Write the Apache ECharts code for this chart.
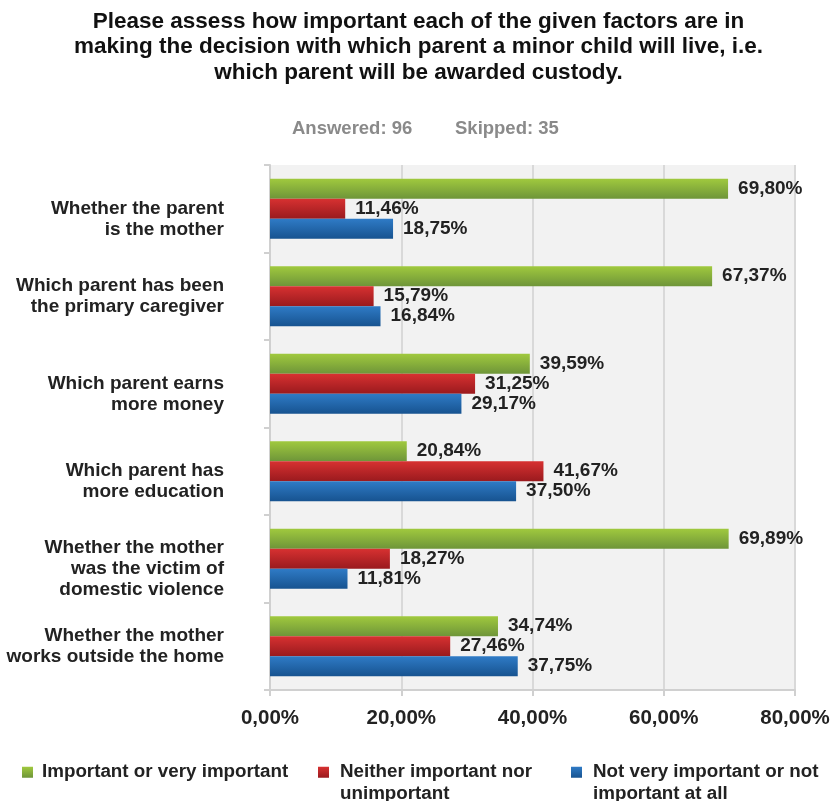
<!DOCTYPE html>
<html>
<head>
<meta charset="utf-8">
<script src="https://cdn.jsdelivr.net/npm/echarts@6/dist/echarts.min.js"></script>
<style>
html,body{margin:0;padding:0;background:#fff;}
#main{width:837px;height:801px;}
</style>
</head>
<body>
<div id="main"></div>
<script>
const categories = [
  "\nWhether the parent\nis the mother",
  "Which parent has been\nthe primary caregiver",
  "\nWhich parent earns\nmore money",
  "\nWhich parent has\nmore education",
  "\nWhether the mother\nwas the victim of\ndomestic violence",
  "Whether the mother\nworks outside the home"
];
const seriesNames = [
  "Important or very important",
  "Neither important nor\nunimportant",
  "Not very important or not\nimportant at all"
];
const important = [69.80, 67.37, 39.59, 20.84, 69.89, 34.74];
const neither = [11.46, 15.79, 31.25, 41.67, 18.27, 27.46];
const notImportant = [18.75, 16.84, 29.17, 37.50, 11.81, 37.75];
const xTicks = [0, 20, 40, 60, 80];
const titleText = "Please assess how important each of the given factors are in\nmaking the decision with which parent a minor child will live, i.e.\nwhich parent will be awarded custody.";
const answeredText = "Answered: 96";
const skippedText = "Skipped: 35";

const sans = "'Liberation Sans', Arial, Helvetica, sans-serif";

function grad(top, bottom) {
  return new echarts.graphic.LinearGradient(0, 0, 0, 1, [
    {offset: 0, color: top}, {offset: 1, color: bottom}
  ]);
}
const colors = [grad('#a0c93e', '#6e9539'), grad('#d73131', '#9a1a1e'), grad('#2f7bc6', '#175390')];
const fmt = v => v.toFixed(2).replace('.', ',') + '%';

const chart = echarts.init(document.getElementById('main'), null, {renderer: 'canvas'});
const values = [important, neither, notImportant];

const legendText = {fontFamily: sans, fontWeight: 'bold', fontSize: 18.8, color: '#222', lineHeight: 21.5, padding: [0, 0, 0, 6]};
const legendFmt = name => name.indexOf('\n') >= 0 ? '\n' + name : name;
const legendBase = {padding: 0, icon: 'rect', itemWidth: 11, itemHeight: 11, formatter: legendFmt, textStyle: legendText};

chart.setOption({
  animation: false,
  backgroundColor: '#fff',
  title: [
    {text: titleText, left: 'center', top: 9, padding: 0,
     textStyle: {fontFamily: sans, fontWeight: 'bold', fontSize: 22.5, lineHeight: 25.5, color: '#111'}},
    {text: answeredText, left: 292, top: 119, padding: 0,
     textStyle: {fontFamily: sans, fontWeight: 'bold', fontSize: 18.5, color: '#8a8a8a'}},
    {text: skippedText, left: 455, top: 119, padding: 0,
     textStyle: {fontFamily: sans, fontWeight: 'bold', fontSize: 18.5, color: '#8a8a8a'}}
  ],
  legend: [
    Object.assign({data: [seriesNames[0]], left: 22, top: 761.5}, legendBase, {textStyle: Object.assign({}, legendText, {padding: [0, 0, 0, 4]})}),
    Object.assign({data: [seriesNames[1]], left: 318, top: 740}, legendBase),
    Object.assign({data: [seriesNames[2]], left: 571, top: 740}, legendBase)
  ],
  grid: {left: 270, right: 42, top: 165, bottom: 111, show: true, backgroundColor: '#f2f2f2', borderWidth: 0, containLabel: false},
  xAxis: {
    type: 'value', min: xTicks[0], max: xTicks[xTicks.length - 1], interval: xTicks[1] - xTicks[0],
    axisLine: {show: true, lineStyle: {color: '#d0d0d0', width: 2}},
    axisTick: {show: true, length: 6, lineStyle: {color: '#d0d0d0', width: 2}},
    splitLine: {show: true, lineStyle: {color: '#d9d9d9', width: 2}},
    axisLabel: {formatter: v => fmt(v), margin: 18, fontFamily: sans, fontWeight: 'bold', fontSize: 20.5, color: '#222'}
  },
  yAxis: {
    type: 'category', data: categories, inverse: true,
    axisLine: {show: true, lineStyle: {color: '#d0d0d0', width: 2}},
    axisTick: {show: true, length: 6, lineStyle: {color: '#d0d0d0', width: 2}},
    splitLine: {show: false},
    axisLabel: {margin: 46, fontFamily: sans, fontWeight: 'bold', fontSize: 19, lineHeight: 21, color: '#222', align: 'right'}
  },
  series: seriesNames.map((name, i) => ({
    name: name, type: 'bar', data: values[i], barWidth: 20, barGap: '0%',
    itemStyle: {color: colors[i]},
    label: {show: true, position: 'right', distance: 10, formatter: p => fmt(p.value),
            fontFamily: sans, fontWeight: 'bold', fontSize: 19, color: '#222'}
  }))
});
</script>
</body>
</html>
